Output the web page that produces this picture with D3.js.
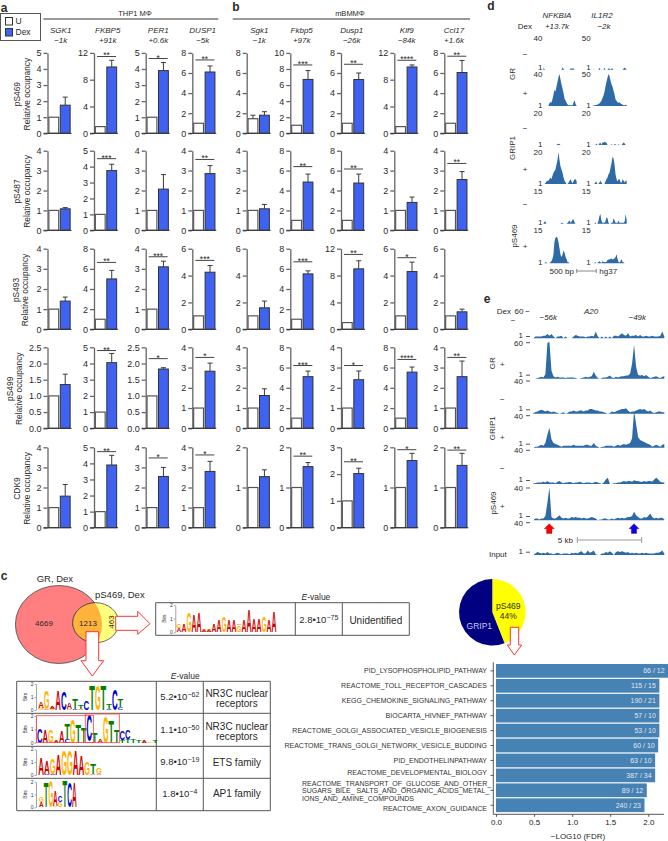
<!DOCTYPE html>
<html><head><meta charset="utf-8">
<script src="https://cdn.jsdelivr.net/npm/d3@7"></script>
<style>html,body{margin:0;padding:0;background:#fff}svg{display:block}text{font-family:"Liberation Sans",Arial,sans-serif;fill:#2a2a2a}</style>
</head><body><svg id="c" width="668" height="841"></svg>
<script>
// ---------- panel a / b data ----------
const rowNames=["pS469","pS487","pS493","pS499","CDK9"];
const aGenes=["SGK1","FKBP5","PER1","DUSP1"], aLoci=["−1k","+91k","+0.6k","−5k"];
const bGenes=["Sgk1","Fkbp5","Dusp1","Klf9","Ccl17"], bLoci=["−1k","+97k","−26k","−84k","+1.6k"];
const aMax=[[5,12,5,8],[4,5,4,4],[4,8,4,6],[2.5,5,2.5,4],[4,5,4,4]];
const aU=[[1,1,1,1],[1,1,1,1],[1,1,1,1],[1,1,1,1],[1,1,1,1]];
const aDex=[[1.75,9.9,3.9,6.1],[1.08,3.75,2.07,2.85],[1.4,5.0,3.1,4.25],[1.35,4.05,1.83,2.82],[1.57,3.9,2.55,2.8]];
const aErr=[[2.25,10.9,4.4,6.7],[1.14,4.15,2.8,3.25],[1.6,5.85,3.38,4.75],[1.67,4.62,1.87,3.22],[2.15,4.5,3.0,3.3]];
const aStars=[["","**","*","**"],["","***","","**"],["","**","***","***"],["","**","*","*"],["","**","*","*"]];
const aSigY=[[0,11.46,4.65,7.3],[0,4.5,0,3.56],[0,6.64,3.6,5.13],[0,4.8,2.15,3.5],[0,4.73,3.47,3.62]];
const bMax=[[8,10,8,12,8],[4,8,8,4,4],[6,8,12,6,6],[4,8,4,8,4],[2,2,3,2,2]];
const bU=[[1.45,1,1,1,1],[1,1,1,1,1],[1,1,1,1,1],[1,1,1,1,1],[1,1,1,1,1]];
const bUErr=[[1.8,0,0,0,0],[0,0,0,0,0],[0,0,0,0,0],[0,0,0,0,0],[0,0,0,0,0]];
const bDex=[[1.8,6.7,5.35,9.9,6.05],[1.08,4.85,4.75,1.4,2.55],[1.6,5.5,9,4.3,1.3],[1.62,5.1,2.4,5.55,2.55],[1.27,1.52,2.02,1.67,1.55]];
const bErr=[[2.15,7.8,6.0,10.2,7.25],[1.3,5.65,5.65,1.67,2.95],[2.1,5.8,10.2,5.0,1.5],[1.95,5.65,2.83,6.05,3.32],[1.44,1.62,2.22,1.85,1.85]];
const bStars=[["","***","**","****","**"],["","**","**","","**"],["","***","**","*",""],["","***","*","****","**"],["","**","**","*","**"]];
const bSigY=[[0,8.5,6.87,10.9,7.67],[0,6.4,6.16,0,3.36],[0,6.7,11.15,5.33,0],[0,6.2,3.1,6.8,3.5],[0,1.78,2.46,1.94,1.93]];
const tickStep={12:4,10:2,8:2,6:2,5:1,4:1,3:1,2:1,2.5:0.5};

// ---------- panel c data ----------
const vennCounts=["4669","1213","463"];
const logoUnident=[{A:.3,G:.3},{A:.6},{G:1.4},{A:1.25},{A:1.4},{A:.2,G:.1},{A:.15,G:.1},{A:.6},{A:.8},{G:1.15},{A:.8},{A:.8},{G:.5,A:.1},{A:.8},{A:1.63},{A:.9},{A:.9},{G:1.15},{A:.8},{A:1.5}];
const logoNR3C1=[{G:.15,A:.5},{A:.1,G:1.4},{G:.1,A:.2},{A:1.5},{C:1.4},{G:.1,A:.5},{C:.1,T:.8},{A:.1,T:.25},{C:.7},{T:1.9},{G:1.9},{T:1.9},{C:.1,T:.4},{C:1.6},{C:.2,T:.6}];
const logoNR3C2=[{C:1.1},{A:1.0},{G:1.0},{A:.2},{A:.9},{C:.3,T:1.2},{G:1.7},{T:1.4},{T:1.2},{A:.1,C:1.9},{T:.8},{A:.3},{G:1.9},{T:1.6},{T:1},{T:.2,C:.7},{T:.3,C:.7},{T:.3},{T:.2},{A:.15},{G:.1},{T:.15}];
const logoETS=[{A:1.35},{C:.1,A:1},{C:.1,G:1.2},{A:1.6},{G:1.9},{G:1.9},{A:1.9},{A:1.5},{G:1.0},{A:.1,T:.8},{A:.05,G:.5}];
const logoAP1=[{A:.4,G:.4},{T:1.9},{G:2},{G:.1,A:1.2},{G:.4,C:.5},{T:2},{C:1.9},{A:1.9}];
const motifEvals=[["5.2•10","−62"],["1.1•10","−50"],["9.8•10","−19"],["1.8•10","−4"]];
const motifFamilies=[["NR3C nuclear","receptors"],["NR3C nuclear","receptors"],["ETS family"],["AP1 family"]];
const pieNames=["pS469","GRIP1"], pieValues=[44,56];
const pathNames=["PID_LYSOPHOSPHOLIPID_PATHWAY","REACTOME_TOLL_RECEPTOR_CASCADES","KEGG_CHEMOKINE_SIGNALING_PATHWAY","BIOCARTA_HIVNEF_PATHWAY","REACTOME_GOLGI_ASSOCIATED_VESICLE_BIOGENESIS","REACTOME_TRANS_GOLGI_NETWORK_VESICLE_BUDDING","PID_ENDOTHELINPATHWAY","REACTOME_DEVELOPMENTAL_BIOLOGY","REACTOME_TRANSPORT_OF_GLUCOSE_AND_OTHER_\nSUGARS_BILE_ SALTS_AND_ORGANIC_ACIDS_METAL_\nIONS_AND_AMINE_COMPOUNDS","REACTOME_AXON_GUIDANCE"];
const pathValues=[2.26,2.145,2.145,2.145,2.145,2.13,2.09,2.09,1.98,1.95];
const pathCounts=["66 / 12","115 / 15","190 / 21","57 / 10","53 / 10","60 / 10","63 / 10","387 / 34","89 / 12","240 / 23"];

// ---------- panel d data ----------
const dNames=["GR","GRIP1","pS469"];
const dMaxL=[40,40,20,20,15,15], dMaxR=[50,50,20,20,15,15];
const dL=[
[2,1,0,0,0,0,0,0,0,0,0,0,0,0,0,0,0,0,0,3,1,0,0,0,0,0,0,1.5,1.5,1.5,1.5,0,0,0],
[0,0,0,0,0,0,3,5,4,8,14,20,18,24,30,36,40,33,27,22,16,9,7,4,2,1,1,1,1,1,5,7,2,0],
[0,0,0,0,0,0,0,0,0,0,0,0,0,0,.6,.8,.6,0,0,0,0,0,0,0,0,0,0,0,0,0,0,0,0,0],
[0,0,.5,1.5,2,2,3,4,3,5,7,8,9,12,15,20,15,11,9,7,4,2,1,0,0,1,2,3,1.5,.5,2,3,3,1.5],
[0,.8,1.2,0,0,0,0,0,0,0,0,0,0,0,0,0,0,0,.5,.5,0,0,0,0,.5,1,1.5,.5,1,2,2,.5,0,0],
[0,0,.5,.5,0,0,0,.5,1,2,4,10,12,12.5,12,10,7,4,3,4,6,5,3,2,.5,.5,0,0,0,0,0,0,0,0]];
const dR=[
[1,0,0,0,0,0,3,0,0,0,0,3,0,0,0,2,2,0,2,2,0,0,0,0,0,0,0,0,0,0,2,3,2,0],
[1,1,1,2,2,3,4,6,8,12,16,22,30,38,44,50,47,40,34,30,24,18,10,8,6,5,6,4,3,2,1,1,2,1],
[0,0,0,1,0,0,1,1.5,0,1.5,1.5,2,1.5,1.5,0,0,0,0,.5,0,0,.5,.5,0,0,.5,0,0,0,1,1.5,1,0,0],
[0,0,1,1.5,0,0,1,2,1,0,0,0,1.5,3,4,6,7,10,13,17,16,12,6,3,1.5,3,3,1,1,3,2,1,2,2],
[0,0,.6,0,0,1,3.5,4.5,1.5,.5,.5,.5,1,3,2.5,.5,0,0,.5,.5,2.5,1.5,.5,.5,.5,1.5,.5,.5,.5,.5,.5,1,4.5,1.5],
[0,0,.6,0,0,.6,1,.6,0,1,.6,.6,.6,.6,1.5,1.8,1.8,2,2.2,1.8,2,2.2,3,4.3,2,.5,.5,1,2,.5,.5,0,0,0]];

// ---------- panel e data ----------
const eNames=["GR","GRIP1","pS469"];
const eTracks=[
[1,3,3,3,3,4,4,6,4,6,3,1,3,3,4,1,3,1,1,1,3,5,4,3,3,3,2,3,3,4,3,9,3,1,3,1,3,1,3,1,4,4,3,5,7,5,4,7,3,4,4,5,3,5,3,3,4,3,3,4,3,3,3,4,9,3],
[1,1,2,3,4,3,8,58,60,14,5,3,4,3,3,3,2,3,3,3,3,2,1,1,2,3,4,3,4,5,12,6,2,1,2,3,3,4,6,3,2,4,3,4,5,5,6,6,9,25,55,20,7,6,7,5,7,4,2,3,4,5,3,2,4,5],
[2,3,4,5,6,5,4,5,4,3,4,3,2,1,2,3,1,2,4,4,5,4,4,5,5,4,5,5,7,7,6,5,5,4,4,3,2,1,2,4,3,4,5,6,7,7,8,5,3,4,4,5,6,7,6,7,5,4,5,3,2,3,4,4,3,3],
[1,2,2,3,4,3,6,15,22,10,6,5,4,3,2,3,3,3,3,3,4,3,3,3,3,3,4,4,3,3,6,3,2,1,2,2,3,3,3,3,2,3,4,3,4,5,4,5,6,11,40,26,12,9,8,7,6,5,4,2,3,4,3,2,4,5],
[2,2,3,3,3,4,3,5,3,3,3,2,4,5,3,2,3,3,4,3,2,3,3,4,3,2,3,3,3,2,3,4,3,2,1,3,7,9,1,1,2,2,3,3,4,5,4,5,5,4,6,5,5,4,4,5,4,5,5,4,7,9,7,4,3,3],
[1,3,3,2,3,3,6,22,40,5,3,3,5,7,4,3,4,3,3,5,4,5,4,4,3,4,3,3,4,5,4,3,1,2,2,3,3,2,2,3,2,3,4,3,4,3,4,5,5,6,11,7,5,3,3,5,4,6,9,5,3,4,3,4,4,2],
[1,3,5,4,3,4,3,5,3,3,2,3,4,3,2,3,3,3,2,4,3,4,3,5,6,3,3,7,4,5,7,2,1,1,3,3,5,4,6,4,1,5,6,5,6,5,4,5,3,4,3,4,3,3,4,3,4,3,3,3,3,4,4,5,7,3]];

// ---------- layout ----------
const svg=d3.select("#c");
function txt(x,y,s,o={}){const t=svg.append("text").attr("x",x).attr("y",y).attr("dy","0.35em").attr("font-size",o.size||8).attr("text-anchor",o.anchor||"middle").text(s);
 if(o.italic)t.attr("font-style","italic");if(o.bold)t.attr("font-weight","bold");if(o.fill)t.style("fill",o.fill);if(o.rot!==undefined)t.attr("transform",`rotate(${o.rot} ${x} ${y})`);return t;}
const rowTop=[52.9,150.7,248.7,347.3,447.3], rowBot=[133.3,230.3,329.3,428.3,527.7];
const aX=[47.5,94,145.7,192.3], bX=[246.7,290.3,341,394.3,444.3];
const BLUE="#3f62f0", AX="#666";

function panel(x0,r,max,u,uerr,dex,err,star,sigy){
 const y=d3.scaleLinear([0,max],[rowBot[r],rowTop[r]]);
 const x=d3.scaleBand([0,1],[x0+1,x0+23]).paddingInner(.14).paddingOuter(.03);
 const g=svg.append("g");
 [u,dex].forEach((v,i)=>{g.append("rect").attr("x",x(i)).attr("width",x.bandwidth()).attr("y",y(v)).attr("height",y(0)-y(v)).attr("fill",i?BLUE:"#fff").attr("stroke",i?"#333":"#555").attr("stroke-width",i?1:1.2);
  const e=i?err:uerr;if(e>0){const cx=x(i)+x.bandwidth()/2;
   g.append("path").attr("d",`M${cx},${y(v)}V${y(e)}M${cx-2.5},${y(e)}H${cx+2.5}`).attr("stroke","#3a3a3a").attr("fill","none");}});
 const ax=d3.axisLeft(y).tickValues(d3.range(0,max+.001,tickStep[max])).tickSize(4).tickSizeOuter(0).tickPadding(2).tickFormat(max===2.5?d3.format(".1f"):d3.format("d"));
 const a=svg.append("g").attr("transform",`translate(${x0},0)`).call(ax);
 a.selectAll("line,path").attr("stroke",AX).attr("stroke-width",1.3);
 a.selectAll("text").attr("font-size",9).style("fill","#2a2a2a").style("font-family",'"Liberation Sans"');
 svg.append("line").attr("x1",x0-4).attr("x2",x0+24).attr("y1",y(0)).attr("y2",y(0)).attr("stroke","#333").attr("stroke-width",1);
 if(star){svg.append("line").attr("x1",x0+3).attr("x2",x0+22).attr("y1",y(sigy)).attr("y2",y(sigy)).attr("stroke","#444");
  txt(x0+12.5,y(sigy)-1,star,{size:8.5});}
}
aMax.forEach((row,r)=>row.forEach((m,c)=>panel(aX[c],r,m,aU[r][c],0,aDex[r][c],aErr[r][c],aStars[r][c],aSigY[r][c])));
bMax.forEach((row,r)=>row.forEach((m,c)=>panel(bX[c],r,m,bU[r][c],bUErr[r][c],bDex[r][c],bErr[r][c],bStars[r][c],bSigY[r][c])));

[["a",4,8],["b",236,6.7],["c",4,576],["d",491,5.5],["e",487,299]].forEach(p=>txt(p[1],p[2],p[0],{size:12,bold:true}));
// legend and headers
svg.append("rect").attr("x",.5).attr("y",13.5).attr("width",40).attr("height",27).attr("fill","#fff").attr("stroke","#555");
svg.append("rect").attr("x",5.5).attr("y",17.5).attr("width",7).attr("height",7.5).attr("fill","#fff").attr("stroke","#333");
svg.append("rect").attr("x",5.5).attr("y",28.5).attr("width",7).attr("height",7.5).attr("fill",BLUE).attr("stroke","#333");
txt(15.5,21.5,"U",{anchor:"start",size:8.5});txt(15.5,32.5,"Dex",{anchor:"start",size:8.5});
txt(135,13,"THP1 MΦ",{size:7.5});txt(350,13,"mBMMΦ",{size:7.5});
[[43.3,218.3],[232.7,470]].forEach(s=>svg.append("line").attr("x1",s[0]).attr("x2",s[1]).attr("y1",19).attr("y2",19).attr("stroke","#777").attr("stroke-width",1.5));
const aLabX=[60.7,107.7,158.3,202.7], bLabX=[259.3,301.7,351.7,406.7,454];
aGenes.forEach((g,i)=>{txt(aLabX[i],30,g,{italic:true});txt(aLabX[i],40,aLoci[i],{italic:true});});
bGenes.forEach((g,i)=>{txt(bLabX[i],30,g,{italic:true});txt(bLabX[i],40,bLoci[i],{italic:true});});
const rowLabX=[[17.3,26.7],[17.3,26.7],[16,25.5],[10,19.3],[16.7,26.7]];
rowNames.forEach((n,r)=>{const cy=(rowTop[r]+rowBot[r])/2+1;txt(rowLabX[r][0],cy,n,{rot:-90,size:8.4});txt(rowLabX[r][1],cy,"Relative occupancy",{rot:-90,size:8.4});});

// ---------- panel c: venn ----------
const defs=svg.append("defs");
defs.append("clipPath").attr("id","bigClip").append("ellipse").attr("cx",58.7).attr("cy",624.5).attr("rx",43.3).attr("ry",39);
svg.append("ellipse").attr("cx",58.7).attr("cy",624.5).attr("rx",43.3).attr("ry",39).attr("fill","#ff7f80").attr("stroke","#444").attr("stroke-width",.8);
svg.append("ellipse").attr("cx",95.7).attr("cy",622.7).attr("rx",23).attr("ry",20).attr("fill","#ffff80").attr("stroke","#444").attr("stroke-width",.8);
svg.append("ellipse").attr("cx",95.7).attr("cy",622.7).attr("rx",23).attr("ry",20).attr("fill","#ffb23c").attr("stroke","#444").attr("stroke-width",.8).attr("clip-path","url(#bigClip)");
svg.append("path").attr("d",d3.line().x(d=>d[0]).y(d=>d[1]).curve(d3.curveLinearClosed)([[115.7,616.3],[137.7,616.3],[137.7,611.3],[150,623.7],[137.7,634.3],[137.7,630.3],[115.7,630.3]])).attr("fill","#fff").attr("stroke","#f33").attr("stroke-width",1);
svg.append("path").attr("d","M86,631.7H98.7V660.7H103.7L92.3,676L81,660.7H86Z").attr("fill","#fff").attr("stroke","#f33").attr("stroke-width",1);
txt(36.7,578.5,"GR, Dex",{anchor:"start",size:9.5});txt(95,594.3,"pS469, Dex",{anchor:"start",size:9.5});
txt(44,622.7,vennCounts[0],{size:8});txt(88,622.7,vennCounts[1],{size:8});txt(111,622,vennCounts[2],{size:8,rot:-90});

// motif tables
const LETTER={A:"#cc0000",C:"#0000cc",G:"#ffb300",T:"#008000"}, WID={A:.722,C:.722,G:.778,T:.611};
function logo(cols,x0,colW,yTop,yBot,axX,bitsX){
 const y=d3.scaleLinear([0,2],[yBot,yTop]), x=d3.scaleBand(d3.range(cols.length),[x0,x0+colW*cols.length]);
 const ax=svg.append("g").attr("transform",`translate(${axX},0)`).call(d3.axisLeft(y).tickValues([0,1,2]).tickSize(1.5).tickSizeOuter(0).tickPadding(1).tickFormat(d3.format("d")));
 ax.selectAll("line,path").attr("stroke","#666").attr("stroke-width",.6);
 ax.selectAll("text").attr("font-size",5).style("fill","#333").style("font-family",'"Liberation Sans"');
 txt(bitsX,(yTop+yBot)/2,"Bits",{size:5,rot:-90});
 cols.forEach((c,i)=>{let b=0;Object.entries(c).forEach(([L,h])=>{
  const sx=x.bandwidth()/(WID[L]*10), sy=(y(b)-y(b+h))/7.0;
  svg.append("text").attr("transform",`translate(${x(i)},${y(b)}) scale(${sx},${sy})`).attr("font-size",10).attr("font-weight","bold").style("fill",LETTER[L]).text(L);
  b+=h;});});
}
function tableGrid(xs,ys){const s="#555";xs.forEach(x=>svg.append("line").attr("x1",x).attr("x2",x).attr("y1",ys[0]).attr("y2",ys[ys.length-1]).attr("stroke",s));
 ys.forEach(y=>svg.append("line").attr("x1",xs[0]).attr("x2",xs[xs.length-1]).attr("y1",y).attr("y2",y).attr("stroke",s));}
function evalue(cx,cy,e){const t=txt(cx,cy,e[0],{size:9.5});t.append("tspan").attr("dy",-3.2).attr("font-size",7).text(e[1]);}
tableGrid([155.7,295.3,342.3,409.3],[602.7,635.3]);
txt(307.2,596.8,"E",{anchor:"end",size:8.5,italic:true});txt(307.2,596.8,"-value",{anchor:"start",size:8.5});
logo(logoUnident,176.5,5,605,632.3,175.3,164);
evalue(318.8,620,["2.8•10","−75"]);txt(375.8,620,"Unidentified",{size:10});
const mRows=[681.3,713.3,746.3,778.3,810.7];
tableGrid([16.7,156.3,203.3,270.3],mRows);
txt(176.5,675.8,"E",{anchor:"end",size:8.5,italic:true});txt(176.5,675.8,"-value",{anchor:"start",size:8.5});
logo(logoNR3C1,38.2,5.67,684,710,36,25.7);
logo(logoNR3C2,37,5.5,716,742.7,36,25.7);
logo(logoETS,38.2,5.77,749.3,775,36,25.7);
logo(logoAP1,39,4.7,781.7,807.3,36,25.7);
[[36.3,715.7,57.3,26.7],[85.3,714,34,28.7]].forEach(r=>svg.append("rect").attr("x",r[0]).attr("y",r[1]).attr("width",r[2]).attr("height",r[3]).attr("fill","none").attr("stroke","#f44").attr("stroke-width",.8));
const eY=[696.5,729.5,762,793.5];
motifEvals.forEach((e,i)=>evalue(179.8,eY[i],e));
motifFamilies.forEach((f,i)=>{if(f.length==2){txt(236.8,eY[i]-3,f[0],{size:10});txt(236.8,eY[i]+7,f[1],{size:10});}else txt(236.8,eY[i],f[0],{size:10});});

// pie
const pie=d3.pie().sort(null)(pieValues), arc=d3.arc().innerRadius(0).outerRadius(33.3);
svg.append("g").attr("transform","translate(492.3,612.3)").selectAll("path").data(pie).join("path").attr("d",arc).attr("fill",(d,i)=>i?"#000080":"#ffff00");
txt(508.3,606,pieNames[0],{size:8.5});txt(508.3,615.7,pieValues[0]+"%",{size:8.5});txt(479.3,625.7,pieNames[1],{size:8.5,fill:"#c9c9ec"});
svg.append("path").attr("d","M510.3,627.3H518.7V645H521.7L514.3,655L507.3,645H510.3Z").attr("fill","#fff").attr("stroke","#f33").attr("stroke-width",1);

// pathway bars
const bx=d3.scaleLinear([0,2],[496,648.3]);
const by=d3.scaleBand(d3.range(pathValues.length),[663.4,812.7]).paddingInner(.08).paddingOuter(.04);
svg.selectAll(".pb").data(pathValues).join("rect").attr("x",bx(0)).attr("y",(d,i)=>by(i)).attr("width",d=>bx(d)-bx(0)).attr("height",by.bandwidth()).attr("fill","#4682b4");
pathCounts.forEach((c,i)=>txt(bx(pathValues[i])-3.5,by(i)+by.bandwidth()/2,c,{anchor:"end",size:7,fill:"#e2e8f0"}));
const pathDy=[0,0,0,0,0,0,0,-2.5,0,3];
pathNames.forEach((n,i)=>{const cy=by(i)+by.bandwidth()/2+pathDy[i];const L=n.split("\n");
 if(L.length==1)txt(487,cy,n,{anchor:"end",size:7,fill:"#333"});
 else L.forEach((l,j)=>txt(302,cy+(j-1)*7.7+.7,l,{anchor:"start",size:7,fill:"#333"}));
 svg.append("line").attr("x1",490.5).attr("x2",493).attr("y1",by(i)+by.bandwidth()/2).attr("y2",by(i)+by.bandwidth()/2).attr("stroke","#555");});
svg.append("path").attr("d","M493.3,662.3V814.3H664").attr("fill","none").attr("stroke","#555").attr("stroke-width",1);
const bax=svg.append("g").attr("transform","translate(0,814.3)").call(d3.axisBottom(bx).tickValues([0,.5,1,1.5,2]).tickSize(2.5).tickPadding(3).tickFormat(d3.format(".1f")));
bax.select(".domain").remove();bax.selectAll("line").attr("stroke","#555");
bax.selectAll("text").attr("font-size",8).style("fill","#222").style("font-family",'"Liberation Sans"');
txt(578,836.5,"−LOG10 (FDR)",{size:8});

// ---------- tracks ----------
const TRK="#2d6aa6";
function track(vals,x0,x1,base,h,max,lo){
 const x=d3.scaleLinear([0,vals.length-1],[x0,x1]), y=d3.scaleLinear([lo,max],[base,base-h]).clamp(true);
 svg.append("path").attr("d",d3.area().x((d,i)=>x(i)).y0(base).y1(d=>y(d))(vals)).attr("fill",TRK);
}
// panel d
txt(557,15.3,"NFKBIA",{italic:true});txt(557,25.7,"+13.7k",{italic:true});txt(602,15.3,"IL1R2",{italic:true});txt(604,25.7,"−2k",{italic:true});
txt(517.7,25.7,"Dex",{anchor:"start"});
const dBase=[69.7,106,145,184,223.7,263.3], dTopY=[37.7,74,113,152,191,230], dOneY=[66.7,105,144.3,183.3,221.7,262], dSignY=[54,93.3,128.3,169.3,204,245.7];
dBase.forEach((b,i)=>{
 track(dL[i],543.3,576.7,b,32,dMaxL[i],0);track(dR[i],593.3,626.7,b,32,dMaxR[i],0);
 txt(542.5,dTopY[i],dMaxL[i],{anchor:"end"});txt(590.7,dTopY[i],dMaxR[i],{anchor:"end"});
 txt(542.5,dOneY[i],"1",{anchor:"end"});txt(590.7,dOneY[i],"1",{anchor:"end"});
 txt(525,dSignY[i],i%2?"+":"−",{size:8});
});
txt(512.7,74,dNames[0],{rot:-90});txt(512.7,148,dNames[1],{rot:-90});txt(514,236,dNames[2],{rot:-90});
txt(561.7,271,"500 bp",{});txt(599.3,271,"hg37",{anchor:"start"});
svg.append("path").attr("d","M576.7,269V273M576.7,271H596.3M596.3,269V273").attr("stroke","#888").attr("fill","none");
// panel e
txt(496.7,310.7,"Dex",{anchor:"start"});txt(523.5,310.7,"60",{anchor:"end"});txt(527.7,310.7,"−",{size:8});txt(513,320,"−",{size:8});
txt(548.3,316.7,"−56k",{italic:true});txt(591,310.7,"A20",{italic:true});txt(637.3,316.7,"−49k",{italic:true});
const eBase=[338.3,378.7,413.7,447.7,484,520.3,555], eOneY=[335,373.7,408.3,442.7,479,515,550.7], eTopY=[342.7,381,415.7,450.3,488,522.7], eTopV=[60,40,40,40,40,40];
const eMax=[60,60,40,40,40,40,40], eH=[50,37,30,37,30,33,30];
eBase.forEach((b,i)=>{track(eTracks[i],533.3,664.3,b,eH[i],eMax[i],1);
 txt(523,eOneY[i],"1",{anchor:"end"});svg.append("line").attr("x1",526).attr("x2",530).attr("y1",eOneY[i]+1.5).attr("y2",eOneY[i]+1.5).attr("stroke","#555");});
eTopY.forEach((y,i)=>{txt(523,y,eTopV[i],{anchor:"end"});svg.append("line").attr("x1",526).attr("x2",530).attr("y1",y).attr("y2",y).attr("stroke","#555");});
txt(502.3,363.7,"+",{size:8});txt(502.3,399.3,"−",{size:8});txt(502.3,437,"+",{size:8});txt(502.3,468.3,"−",{size:8});txt(502.3,506.3,"+",{size:8});
txt(492.7,363.3,eNames[0],{rot:-90});txt(492.7,428.3,eNames[1],{rot:-90});txt(493.3,503,eNames[2],{rot:-90});
txt(489,554,"Input",{anchor:"start"});
txt(565.3,540,"5 kb",{});
svg.append("path").attr("d","M577.3,537V543M577.3,540H641.7M641.7,537V543").attr("stroke","#999").attr("fill","none");
[[549.3,"#ff0000"],[634,"#0000ff"]].forEach(a=>svg.append("path").attr("transform",`translate(${a[0]},523.7)`).attr("d","M0,0L5,5H2.7V9.7H-2.7V5H-5Z").attr("fill",a[1]).attr("stroke","#900").attr("stroke-width",.4));
</script></body></html>
